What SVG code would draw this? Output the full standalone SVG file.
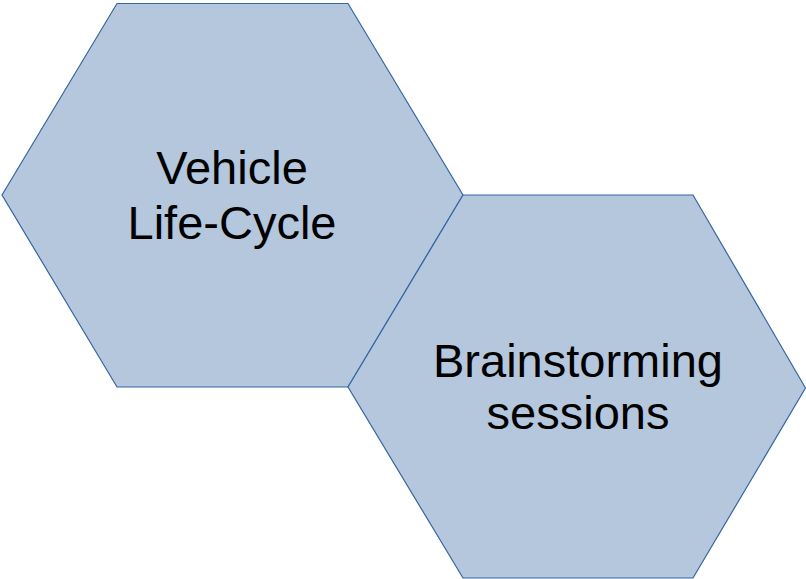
<svg xmlns="http://www.w3.org/2000/svg" width="806" height="579" viewBox="0 0 806 579">
<style>
.hex{fill:#b4c7dc;stroke:#3465a4;stroke-width:1.2}
.lbl{font-family:"Liberation Sans",Arial,sans-serif;font-size:47px;fill:#000;text-anchor:middle}
</style>
<rect width="806" height="579" fill="#fff"/>
<g id="node-vehicle">
<polygon class="hex" points="2,195 117,3.5 348,3.5 463,195 348,387 117,387"/>
<text class="lbl" x="232" y="184">Vehicle</text>
<text class="lbl" x="232" y="239">Life-Cycle</text>
</g>
<g id="node-brainstorming">
<polygon class="hex" points="348,387 463,195 693,195 805.5,388 693,578 463,578"/>
<text class="lbl" x="578" y="377">Brainstorming</text>
<text class="lbl" x="578" y="429">sessions</text>
</g>
<g id="connectors"></g>
</svg>
